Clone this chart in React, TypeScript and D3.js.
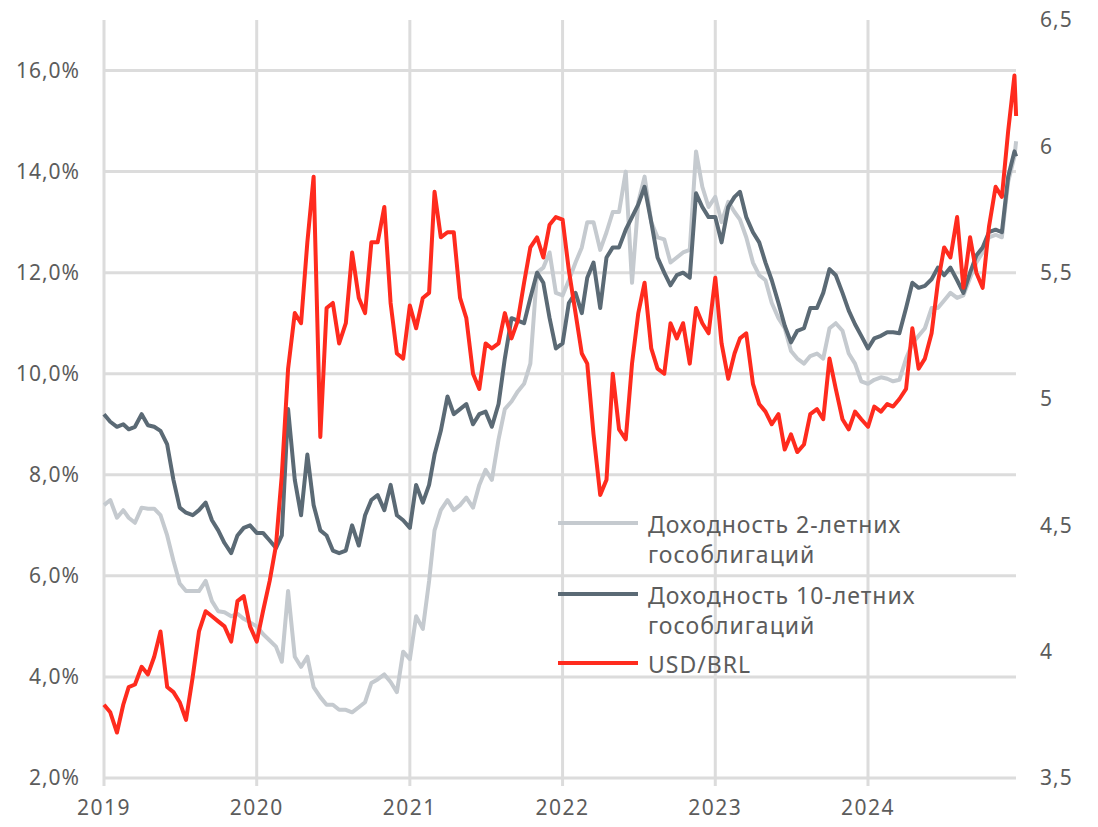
import React from "react";
import * as d3 from "d3";

// Semi-monthly observation dates (1st and 16th of each month), 2019 – Dec 2024
const dates: Date[] = [];
for (let y = 2019; y <= 2024; y++) {
  for (let m = 0; m < 12; m++) {
    dates.push(new Date(y, m, 1));
    dates.push(new Date(y, m, 16));
  }
}
dates.push(new Date(2024, 11, 20));

// 2-year government bond yield, %
const yield2y: number[] = [
  7.4, 7.5, 7.15, 7.3, 7.15, 7.05, 7.35, 7.33, 7.33, 7.2, 6.8, 6.3, 5.85, 5.7, 5.7, 5.7, 5.9, 5.5, 5.3, 5.28, 5.2, 5.25, 5.15, 5.08,
  5.0, 4.85, 4.72, 4.6, 4.3, 5.7, 4.4, 4.2, 4.4, 3.8, 3.6, 3.45, 3.45, 3.35, 3.35, 3.3, 3.4, 3.5, 3.88, 3.95, 4.05, 3.9, 3.7, 4.5,
  4.35, 5.2, 4.95, 5.9, 6.9, 7.3, 7.5, 7.3, 7.4, 7.55, 7.35, 7.8, 8.1, 7.9, 8.7, 9.3, 9.45, 9.65, 9.8, 10.2, 12.0, 12.1, 12.4, 11.6,
  11.55, 11.85, 12.2, 12.5, 13.0, 13.0, 12.45, 12.8, 13.2, 13.2, 14.0, 11.8, 13.4, 13.9, 13.0, 12.7, 12.66, 12.2, 12.3, 12.4, 12.45, 14.4, 13.7, 13.3,
  13.5, 13.0, 13.4, 13.2, 13.05, 12.7, 12.2, 11.95, 11.85, 11.4, 11.1, 10.9, 10.45, 10.3, 10.2, 10.35, 10.4, 10.3, 10.9, 11.0, 10.85, 10.4, 10.2, 9.85,
  9.8, 9.88, 9.93, 9.9, 9.85, 9.88, 10.3, 10.6, 10.75, 10.9, 11.3, 11.3, 11.45, 11.6, 11.5, 11.55, 11.9, 12.2, 12.4, 12.7, 12.75, 12.7, 13.8, 14.3,
  14.6,
];

// 10-year government bond yield, %
const yield10y: number[] = [
  9.2, 9.05, 8.95, 9.0, 8.9, 8.95, 9.2, 8.98, 8.95, 8.87, 8.6, 7.9, 7.35, 7.25, 7.2, 7.3, 7.45, 7.1, 6.9, 6.65, 6.45, 6.8, 6.95, 7.0,
  6.85, 6.85, 6.7, 6.55, 6.8, 9.3, 7.9, 7.2, 8.4, 7.4, 6.9, 6.8, 6.5, 6.45, 6.5, 7.0, 6.6, 7.2, 7.5, 7.6, 7.3, 7.8, 7.2, 7.1,
  6.95, 7.8, 7.45, 7.8, 8.4, 8.87, 9.55, 9.2, 9.3, 9.4, 9.0, 9.2, 9.25, 8.95, 9.4, 10.3, 11.1, 11.05, 11.0, 11.5, 12.0, 11.8, 11.1, 10.5,
  10.6, 11.4, 11.6, 11.2, 11.9, 12.2, 11.3, 12.3, 12.5, 12.5, 12.85, 13.1, 13.35, 13.7, 13.0, 12.3, 12.0, 11.75, 11.95, 12.0, 11.9, 13.57, 13.3, 13.1,
  13.1, 12.6, 13.3, 13.5, 13.6, 13.1, 12.8, 12.6, 12.2, 11.85, 11.4, 10.95, 10.62, 10.85, 10.9, 11.3, 11.3, 11.6, 12.07, 11.95, 11.6, 11.25, 10.98, 10.75,
  10.5, 10.7, 10.75, 10.82, 10.82, 10.8, 11.3, 11.8, 11.7, 11.74, 11.87, 12.1, 11.95, 12.1, 11.85, 11.6, 12.0, 12.34, 12.5, 12.8, 12.85, 12.8, 13.9, 14.4,
  14.3,
];

// USD/BRL exchange rate (right axis)
const usdBrl: number[] = [
  3.79, 3.76, 3.68, 3.79, 3.86, 3.87, 3.94, 3.91, 3.98, 4.08, 3.86, 3.84, 3.8, 3.73, 3.9, 4.08, 4.16, 4.14, 4.12, 4.1, 4.04, 4.2, 4.22, 4.1,
  4.04, 4.16, 4.28, 4.42, 4.7, 5.12, 5.34, 5.3, 5.62, 5.88, 4.85, 5.36, 5.38, 5.22, 5.3, 5.58, 5.4, 5.34, 5.62, 5.62, 5.76, 5.38, 5.18, 5.16,
  5.37, 5.28, 5.4, 5.42, 5.82, 5.64, 5.66, 5.66, 5.4, 5.32, 5.1, 5.04, 5.22, 5.2, 5.22, 5.34, 5.24, 5.31, 5.46, 5.6, 5.64, 5.56, 5.69, 5.72,
  5.71, 5.51, 5.34, 5.18, 5.14, 4.86, 4.62, 4.68, 5.1, 4.88, 4.84, 5.14, 5.34, 5.46, 5.2, 5.12, 5.1, 5.3, 5.24, 5.3, 5.14, 5.36, 5.3, 5.26,
  5.48, 5.22, 5.08, 5.18, 5.24, 5.26, 5.06, 4.98, 4.95, 4.9, 4.94, 4.8, 4.86, 4.79, 4.82, 4.94, 4.96, 4.92, 5.16, 5.04, 4.92, 4.88, 4.95, 4.92,
  4.89, 4.97, 4.95, 4.98, 4.97, 5.0, 5.04, 5.28, 5.12, 5.16, 5.26, 5.46, 5.6, 5.56, 5.72, 5.44, 5.64, 5.5, 5.44, 5.68, 5.84, 5.8, 6.06, 6.28,
  6.12,
];

const leftTicks: number[] = [2, 4, 6, 8, 10, 12, 14, 16];
const rightTicks: number[] = [3.5, 4, 4.5, 5, 5.5, 6, 6.5];
const yearTicks: number[] = [2019, 2020, 2021, 2022, 2023, 2024];

const legendItems = [
  { lines: ["Доходность 2-летних", "гособлигаций"], color: "#c5cacf" },
  { lines: ["Доходность 10-летних", "гособлигаций"], color: "#5b6a75" },
  { lines: ["USD/BRL"], color: "#ff2b1e" },
];

const W = 1098;
const H = 827;
const FONT = "'Noto Sans', 'Open Sans', sans-serif";
const TEXT = "#5c5c5c";
const GRID = "#dcdcdc";

export default function App() {
  const x = d3
    .scaleTime()
    .domain([new Date(2019, 0, 1), new Date(2024, 0, 1)])
    .range([104, 868]);
  const yL = d3.scaleLinear().domain([2, 17]).range([778, 20]);
  const yR = d3.scaleLinear().domain([3.5, 6.5]).range([778, 20]);

  const lineL = (vals: number[]) =>
    d3
      .line<number>()
      .x((_, i) => x(dates[i]))
      .y((d) => yL(d))(vals) || "";
  const lineR = (vals: number[]) =>
    d3
      .line<number>()
      .x((_, i) => x(dates[i]))
      .y((d) => yR(d))(vals) || "";

  const xRight = 1016;
  const fmtL = (v: number) => v.toFixed(1).replace(".", ",") + "%";
  const fmtR = (v: number) => String(v).replace(".", ",");

  return (
    <svg
      width={W}
      height={H}
      style={{ position: "absolute", left: 0, top: 0, background: "#fff" }}
      fontFamily={FONT}
    >
      {yearTicks.map((yr) => {
        const xx = x(new Date(yr, 0, 1));
        return <line key={"v" + yr} x1={xx} x2={xx} y1={20} y2={786} stroke={GRID} strokeWidth={3} />;
      })}
      {leftTicks.map((t) => (
        <line key={"h" + t} x1={104} x2={xRight} y1={yL(t)} y2={yL(t)} stroke={GRID} strokeWidth={3} />
      ))}

      <path d={lineL(yield2y)} fill="none" stroke="#c5cacf" strokeWidth={4} strokeLinejoin="round" />
      <path d={lineL(yield10y)} fill="none" stroke="#5b6a75" strokeWidth={4} strokeLinejoin="round" />
      <path d={lineR(usdBrl)} fill="none" stroke="#ff2b1e" strokeWidth={4} strokeLinejoin="round" />

      {leftTicks.map((t) => (
        <text key={"l" + t} x={80} y={yL(t)} dy="0.35em" textAnchor="end" fontSize={21} fill={TEXT} letterSpacing={1}>
          {fmtL(t)}
        </text>
      ))}
      {rightTicks.map((t) => (
        <text key={"r" + t} x={1040} y={yR(t)} dy="0.35em" textAnchor="start" fontSize={21} fill={TEXT} letterSpacing={1}>
          {fmtR(t)}
        </text>
      ))}
      {yearTicks.map((yr) => (
        <text key={"x" + yr} x={x(new Date(yr, 0, 1))} y={808} dy="0.35em" textAnchor="middle" fontSize={21} fill={TEXT} letterSpacing={1.5}>
          {yr}
        </text>
      ))}

      {legendItems.map((it, k) => {
        const ly = [523, 594, 663][k];
        return (
          <g key={"lg" + k}>
            <line x1={558} x2={638} y1={ly} y2={ly} stroke={it.color} strokeWidth={4} />
            {it.lines.map((ln, j) => (
              <text key={j} x={648} y={ly + 2 + j * 30} dy="0.35em" fontSize={23} fill={TEXT} letterSpacing={1}>
                {ln}
              </text>
            ))}
          </g>
        );
      })}
    </svg>
  );
}
